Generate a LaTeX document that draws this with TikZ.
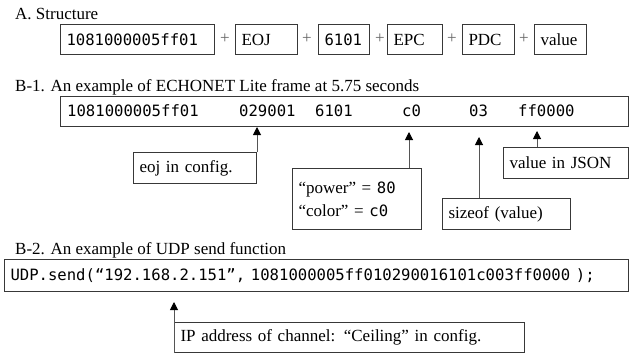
\documentclass[tikz,border=0pt]{standalone}
\usepackage{fontspec}
\setmainfont{Liberation Serif}
\newfontfamily\monofam{DejaVu Sans Mono}
\newcommand\monof{\monofam\fontsize{15.6}{19}\selectfont}
\usetikzlibrary{arrows.meta}
\definecolor{edge}{HTML}{383838}
\definecolor{arrline}{HTML}{555555}
\begin{document}
\begin{tikzpicture}[x=1pt,y=-1pt,
  font=\fontsize{17}{20}\selectfont,
  box/.style={draw=edge, line width=1pt, anchor=north west, inner xsep=6pt, inner ysep=0pt, align=left},
  captxt/.style={anchor=base west, inner sep=0pt},
  fld/.style={anchor=base west, inner sep=0pt, font=\monof},
  plussign/.style={inner sep=0pt, text=black!60},
  arr/.style={draw=arrline, line width=1pt, -{Triangle[length=8pt,width=8pt,color=black]}}]
\useasboundingbox (0,0) rectangle (631,353);

% A. Structure
\node[captxt] (capa) at (15,20) {A. Structure};
\node[box, text width=142pt, minimum height=30pt] (a1) at (60,24) {\monof 1081000005ff01};
\node[plussign] (p1) at (225,39) {+};
\node[box, text width=50pt, minimum height=30pt] (a2) at (235,24) {EOJ};
\node[plussign] (p2) at (307,39) {+};
\node[box, text width=39pt, minimum height=30pt] (a3) at (318,24) {\monof 6101};
\node[plussign] (p3) at (380,39) {+};
\node[box, text width=43pt, minimum height=30pt] (a4) at (387,24) {EPC};
\node[plussign] (p4) at (452,39) {+};
\node[box, text width=40pt, minimum height=30pt] (a5) at (462,24) {PDC};
\node[plussign] (p5) at (524,39) {+};
\node[box, text width=40pt, minimum height=30pt] (a6) at (534,24) {value};

% B-1
\node[captxt] (capb1) at (15,91) {B-1. An example of ECHONET Lite frame at 5.75 seconds};
\node[box, text width=556pt, minimum height=30pt] (frame) at (60,96) {};
\node[fld] (f1) at (67,116) {1081000005ff01};
\node[fld] (f2) at (239,116) {029001};
\node[fld] (f3) at (315,116) {6101};
\node[fld] (f4) at (402,116) {c0};
\node[fld] (f5) at (469,116) {03};
\node[fld] (f6) at (518,116) {ff0000};

\node[box, text width=111pt, minimum height=31pt] (eoj) at (133,152) {eoj in config.};
\node[box, text width=117pt, minimum height=61pt, font=\fontsize{17}{23}\selectfont] (pw) at (292,168) {“power” = {\monof 80}\\“color” = {\monof c0}};
\node[box, text width=116pt, minimum height=31pt] (sz) at (442,198) {sizeof (value)};
\node[box, text width=113pt, minimum height=31pt] (vj) at (503,147) {value in JSON};

\coordinate (t2) at (409,132);
\coordinate (t3) at (479,137);
\coordinate (t4) at (537,131);
\draw[arr] (eoj.north east) -- (eoj.north east |- frame.south);
\draw[arr] (t2 |- pw.north) -- (t2);
\draw[arr] (t3 |- sz.north) -- (t3);
\draw[arr] (t4 |- vj.north) -- (t4);

% B-2
\node[captxt] (capb2) at (15,254) {B-2. An example of UDP send function};
\node[box, text width=612pt, minimum height=32pt] (udp) at (4,259) {\monof UDP.send(“192.168.2.151”, 1081000005ff010290016101c003ff0000 );};
\node[box, text width=338pt, minimum height=30pt] (ip) at (174,322) {IP address of channel: “Ceiling” in config.};
\coordinate (t5) at (174,302);
\draw[arr] (ip.south west) -- (t5);
\end{tikzpicture}
\end{document}
